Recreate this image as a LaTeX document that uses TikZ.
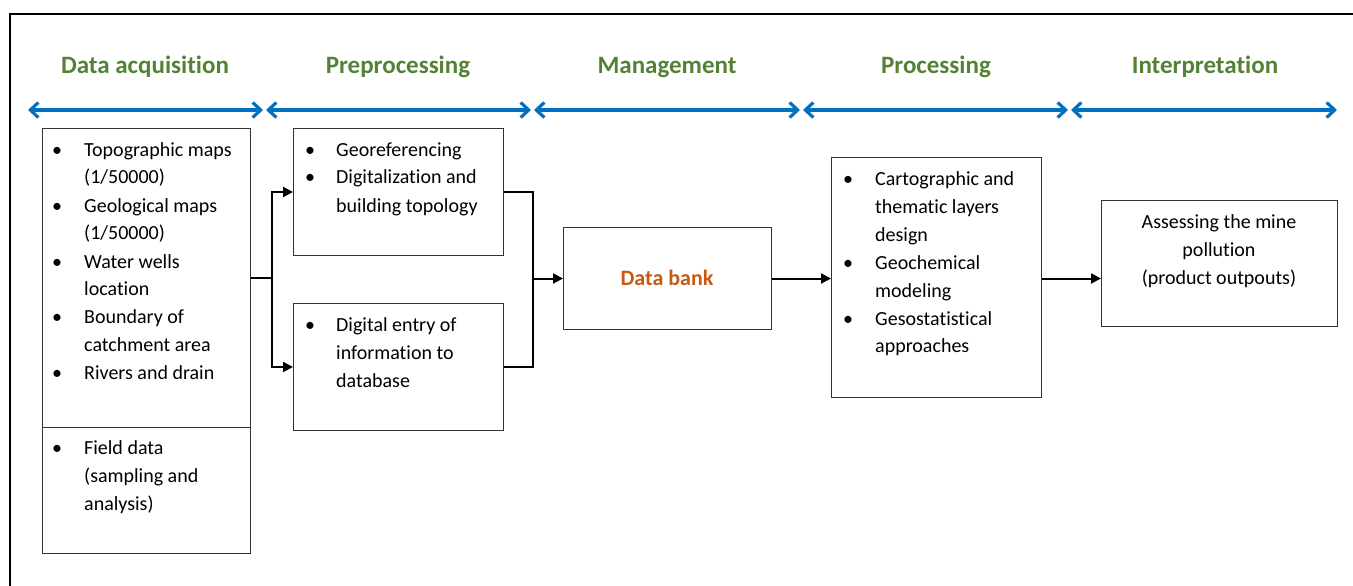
\documentclass[tikz,border=0pt]{standalone}
\usepackage{fontspec}
\setmainfont[Ligatures={NoCommon,NoRare}]{Carlito}
\usetikzlibrary{arrows.meta}
\definecolor{hdr}{HTML}{548235}
\definecolor{blu}{HTML}{0070C0}
\definecolor{org}{HTML}{C55A11}
\newcommand{\blt}{\textbullet}
\begin{document}
\begin{tikzpicture}[x=1pt,y=-1pt,
  box/.style={draw=black!80,line width=1pt,inner sep=0pt,anchor=north west},
  hd/.style={text=hdr,font=\fontsize{25}{30}\selectfont\bfseries,anchor=base,inner sep=0pt},
  phase/.style={blu,line width=3.2pt,{Straight Barb[length=8pt,width=15pt,line width=3.2pt]}-{Straight Barb[length=8pt,width=15pt,line width=3.2pt]}},
  wire/.style={line width=2pt},
  flow/.style={line width=2pt,-{Triangle[length=10pt,width=10pt]}},
  txt/.style={anchor=base west,inner sep=0pt,font=\fontsize{20}{28}\selectfont},
  ctxt/.style={anchor=base,inner sep=0pt,font=\fontsize{20}{28}\selectfont}]
\useasboundingbox (0,0) rectangle (1353,586);
% outer frame
\coordinate (fa) at (10,600);
\coordinate (fb) at (10,14);
\coordinate (fc) at (1360,14);
\draw[line width=2.2pt] (fa) -- (fb) -- (fc);
% headers
\node[hd] (h1) at (145,74) {Data acquisition};
\node[hd] (h2) at (398,74) {Preprocessing};
\node[hd] (h3) at (667,74) {Management};
\node[hd] (h4) at (936,74) {Processing};
\node[hd] (h5) at (1205,74) {Interpretation};
% phase arrows
\coordinate (a0) at (28,110);   \coordinate (b0) at (263,110);
\coordinate (a1) at (266,110);  \coordinate (b1) at (531,110);
\coordinate (a2) at (534,110);  \coordinate (b2) at (800,110);
\coordinate (a3) at (803,110);  \coordinate (b3) at (1068,110);
\coordinate (a4) at (1071,110); \coordinate (b4) at (1337,110);
\draw[phase] (a0) -- (b0);
\draw[phase] (a1) -- (b1);
\draw[phase] (a2) -- (b2);
\draw[phase] (a3) -- (b3);
\draw[phase] (a4) -- (b4);
% boxes
\node[box,minimum width=208pt,minimum height=299pt] (acq) at (42,128) {};
\node[box,minimum width=208pt,minimum height=126pt] (fld) at (42,427) {};
\node[box,minimum width=210pt,minimum height=127pt] (geo) at (293,128) {};
\node[box,minimum width=210pt,minimum height=127pt] (dig) at (293,303) {};
\node[box,minimum width=208pt,minimum height=102pt] (db) at (563,227) {};
\node[box,minimum width=210pt,minimum height=240pt] (pro) at (831,157) {};
\node[box,minimum width=236pt,minimum height=126pt] (int) at (1101,200) {};
% texts
\node[txt] (tacq) at (52,156) {\begin{tabular}[t]{@{}p{32pt}@{}l@{}}
\blt & Topographic maps\\ & (1/50000)\\
\blt & Geological maps\\ & (1/50000)\\
\blt & Water wells\\ & location\\
\blt & Boundary of\\ & catchment area\\
\blt & Rivers and drain\end{tabular}};
\node[txt] (tfld) at (52,454) {\begin{tabular}[t]{@{}p{32pt}@{}l@{}}
\blt & Field data\\ & (sampling and\\ & analysis)\end{tabular}};
\node[txt] (tgeo) at (305,156) {\begin{tabular}[t]{@{}p{31pt}@{}l@{}}
\blt & Georeferencing\\
\blt & Digitalization and\\ & building topology\end{tabular}};
\node[txt] (tdig) at (305,331) {\begin{tabular}[t]{@{}p{31pt}@{}l@{}}
\blt & Digital entry of\\ & information to\\ & database\end{tabular}};
\node[txt] (tpro) at (843,185) {\begin{tabular}[t]{@{}p{32pt}@{}l@{}}
\blt & Cartographic and\\ & thematic layers\\ & design\\
\blt & Geochemical\\ & modeling\\
\blt & Gesostatistical\\ & approaches\end{tabular}};
\node[ctxt] (tint) at (1219,228) {\begin{tabular}[t]{@{}c@{}}
Assessing the mine\\ pollution\\ (product outpouts)\end{tabular}};
\node[anchor=base,inner sep=0pt,text=org,font=\fontsize{22}{26}\selectfont\bfseries] (tdb) at (667,285) {Data bank};
% connectors
\coordinate (j1) at ([xshift=21pt]acq.east);
\draw[wire] (acq.east) -- (j1);
\draw[flow] (j1) |- (geo.west);
\draw[flow] (j1) |- (dig.west);
\coordinate (j2) at ([xshift=29pt]geo.east);
\draw[wire] (geo.east) -| (j2 |- dig.east) -- (dig.east);
\draw[flow] (j2 |- db.west) -- (db.west);
\draw[flow] (db.east) -- (db.east -| pro.west);
\draw[flow] (db.east -| pro.east) -- (db.east -| int.west);
\end{tikzpicture}
\end{document}
